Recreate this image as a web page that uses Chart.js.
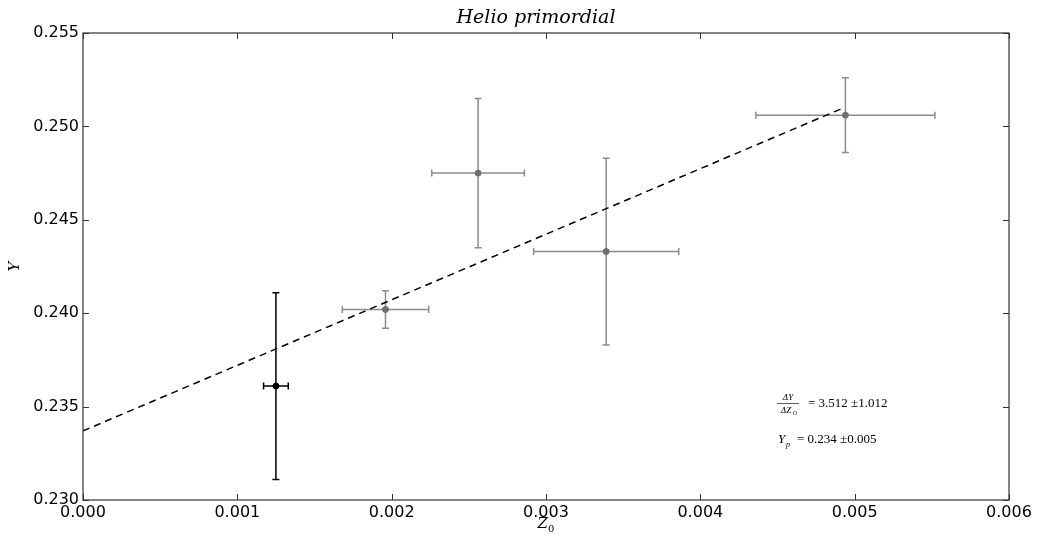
<!DOCTYPE html>
<html>
<head>
<meta charset="utf-8">
<script src="https://cdn.jsdelivr.net/npm/chart.js@4/dist/chart.umd.min.js"></script>
<style>
  html, body { margin: 0; padding: 0; background: #fff; }
  #wrap { width: 1037px; height: 544px; }
</style>
</head>
<body>
<div id="wrap"><canvas id="helioChart"></canvas></div>
<script>
// datos
const z0 = [0.00125, 0.00196, 0.00256, 0.00339, 0.00494];
const yHe = [0.2361, 0.2402, 0.2475, 0.2433, 0.2506];
const z0Err = [0.00008, 0.00028, 0.00030, 0.00047, 0.00058];
const yErr = [0.0050, 0.0010, 0.0040, 0.0050, 0.0020];
const pointColors = ['#000000', '#6e6e6e', '#6e6e6e', '#6e6e6e', '#6e6e6e'];

// recta de ajuste (extremos)
const fitX = [0.0, 0.00493];
const fitY = [0.2337, 0.2510];

const xTicks = [0.000, 0.001, 0.002, 0.003, 0.004, 0.005, 0.006];
const yTicks = [0.230, 0.235, 0.240, 0.245, 0.250, 0.255];

const tickFont = { family: 'DejaVu Sans', size: 16 };

const errorBars = {
    id: 'errorBars',
    beforeDatasetsDraw(chart) {
        const ctx = chart.ctx;
        const xs = chart.scales.x, ys = chart.scales.y;
        const cap = 3.5;
        ctx.save();
        for (let i = 0; i < z0.length; i++) {
            const px = xs.getPixelForValue(z0[i]);
            const py = ys.getPixelForValue(yHe[i]);
            const x1 = xs.getPixelForValue(z0[i] - z0Err[i]);
            const x2 = xs.getPixelForValue(z0[i] + z0Err[i]);
            const y1 = ys.getPixelForValue(yHe[i] - yErr[i]);
            const y2 = ys.getPixelForValue(yHe[i] + yErr[i]);
            ctx.strokeStyle = i === 0 ? '#000000' : '#8c8c8c';
            ctx.lineWidth = 1.5;
            ctx.beginPath();
            ctx.moveTo(x1, py); ctx.lineTo(x2, py);
            ctx.moveTo(px, y1); ctx.lineTo(px, y2);
            ctx.moveTo(x1, py - cap); ctx.lineTo(x1, py + cap);
            ctx.moveTo(x2, py - cap); ctx.lineTo(x2, py + cap);
            ctx.moveTo(px - cap, y1); ctx.lineTo(px + cap, y1);
            ctx.moveTo(px - cap, y2); ctx.lineTo(px + cap, y2);
            ctx.stroke();
        }
        ctx.restore();
    },
    afterDraw(chart) {
        const ctx = chart.ctx;
        const a = chart.chartArea;
        const xs = chart.scales.x, ys = chart.scales.y;
        ctx.save();
        // marco
        ctx.strokeStyle = '#333';
        ctx.lineWidth = 1.2;
        ctx.strokeRect(a.left, a.top, a.right - a.left, a.bottom - a.top);
        // ticks hacia adentro en los cuatro lados
        ctx.lineWidth = 1;
        ctx.beginPath();
        xTicks.forEach(v => {
            const p = Math.round(xs.getPixelForValue(v)) + 0.5;
            ctx.moveTo(p, a.bottom); ctx.lineTo(p, a.bottom - 6);
            ctx.moveTo(p, a.top); ctx.lineTo(p, a.top + 6);
        });
        yTicks.forEach(v => {
            const p = Math.round(ys.getPixelForValue(v)) + 0.5;
            ctx.moveTo(a.left, p); ctx.lineTo(a.left + 6, p);
            ctx.moveTo(a.right, p); ctx.lineTo(a.right - 6, p);
        });
        ctx.stroke();

        ctx.fillStyle = '#000';
        // titulo
        ctx.font = 'italic 19px "DejaVu Serif"';
        ctx.textAlign = 'center';
        ctx.textBaseline = 'alphabetic';
        ctx.fillText('Helio primordial', 536, 23);

        // etiqueta eje x: Z_0
        const cx = (a.left + a.right) / 2;
        ctx.font = 'italic 15px "DejaVu Serif"';
        ctx.textAlign = 'right';
        ctx.fillText('Z', cx + 2, 528);
        ctx.font = '10px "DejaVu Serif"';
        ctx.textAlign = 'left';
        ctx.fillText('0', cx + 2, 532);

        // etiqueta eje y
        ctx.save();
        ctx.translate(19, (a.top + a.bottom) / 2);
        ctx.rotate(-Math.PI / 2);
        ctx.font = 'italic 15px "DejaVu Serif"';
        ctx.textAlign = 'center';
        ctx.fillText('Y', 0, 0);
        ctx.restore();

        // anotaciones
        ctx.textAlign = 'center';
        ctx.font = 'italic 9px "Liberation Serif"';
        ctx.fillText('\u0394Y', 788, 400);
        ctx.fillText('\u0394Z', 786, 413);
        ctx.font = 'italic 6px "Liberation Serif"';
        ctx.fillText('O', 795, 415);
        ctx.beginPath();
        ctx.moveTo(777, 403.5); ctx.lineTo(799, 403.5);
        ctx.lineWidth = 0.8;
        ctx.stroke();
        ctx.textAlign = 'left';
        ctx.font = '13px "Liberation Serif"';
        ctx.fillText('= 3.512 \u00b11.012', 808, 407);
        ctx.font = 'italic 13px "Liberation Serif"';
        ctx.fillText('Y', 778, 443);
        ctx.font = 'italic 8px "Liberation Serif"';
        ctx.fillText('p', 786, 447);
        ctx.font = '13px "Liberation Serif"';
        ctx.fillText('= 0.234 \u00b10.005', 797, 443);
        ctx.restore();
    }
};

new Chart(document.getElementById('helioChart'), {
    type: 'scatter',
    data: {
        datasets: [{
            label: 'ajuste',
            type: 'line',
            data: fitX.map((x, i) => ({ x: x, y: fitY[i] })),
            borderColor: '#000',
            borderWidth: 1.5,
            borderDash: [7, 5],
            pointRadius: 0,
            fill: false
        }, {
            label: 'Y',
            data: z0.map((x, i) => ({ x: x, y: yHe[i] })),
            backgroundColor: pointColors,
            borderColor: pointColors,
            pointRadius: 3,
            pointHoverRadius: 3
        }]
    },
    options: {
        responsive: true,
        maintainAspectRatio: false,
        animation: false,
        layout: { padding: { top: 33, right: 28, left: 0, bottom: 0 } },
        plugins: {
            legend: { display: false },
            tooltip: { enabled: false }
        },
        scales: {
            x: {
                type: 'linear',
                min: 0,
                max: 0.006,
                afterBuildTicks: s => { s.ticks = xTicks.map(v => ({ value: v })); },
                afterFit: s => { s.height = 44; },
                grid: { display: false, drawTicks: false },
                border: { display: false },
                ticks: {
                    color: '#000',
                    font: tickFont,
                    padding: 3,
                    maxRotation: 0,
                    callback: v => v.toFixed(3)
                }
            },
            y: {
                type: 'linear',
                min: 0.230,
                max: 0.255,
                afterBuildTicks: s => { s.ticks = yTicks.map(v => ({ value: v })); },
                afterFit: s => { s.width = 83; },
                grid: { display: false, drawTicks: false },
                border: { display: false },
                ticks: {
                    color: '#000',
                    font: tickFont,
                    padding: 4,
                    callback: v => v.toFixed(3)
                }
            }
        }
    },
    plugins: [errorBars]
});
</script>
</body>
</html>
